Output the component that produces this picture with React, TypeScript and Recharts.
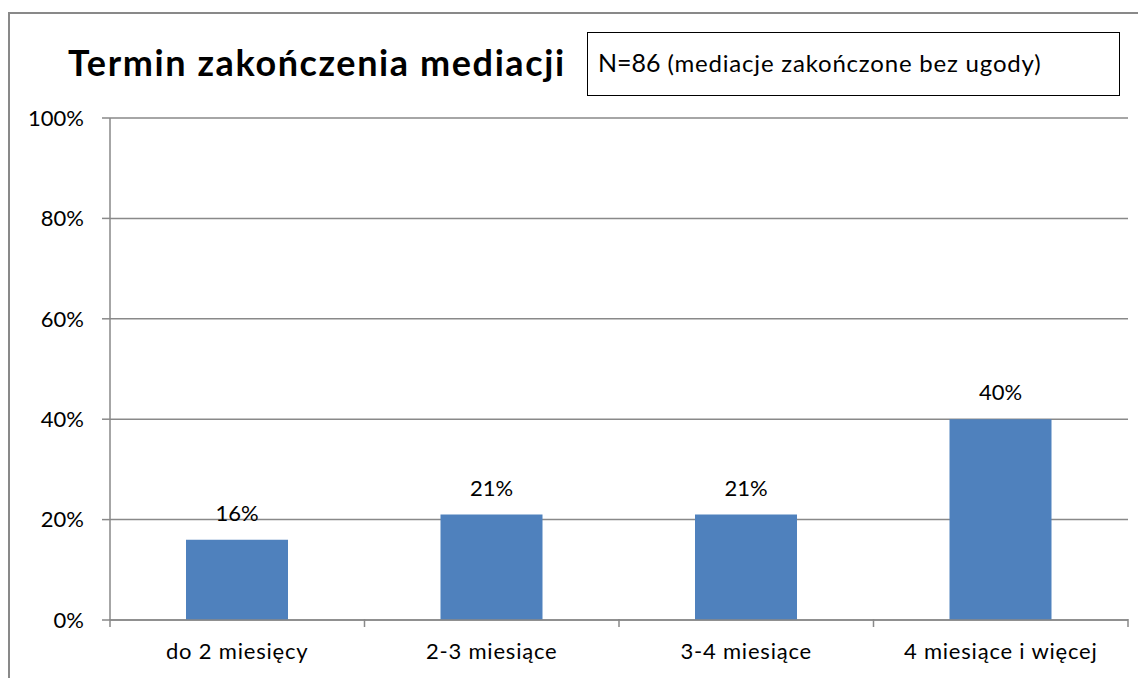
import React from "react";
import { BarChart, Bar, XAxis, YAxis, CartesianGrid, LabelList } from "recharts";

const categories = ["do 2 miesięcy", "2-3 miesiące", "3-4 miesiące", "4 miesiące i więcej"];
const values = [16, 21, 21, 40];
const yTicks = [0, 20, 40, 60, 80, 100];
const titleText = "Termin zakończenia mediacji";
const noteN = "N=86";
const noteText = " (mediacje zakończone bez ugody)";

const data = categories.map((c, i) => ({ name: c, value: values[i] }));

const FONT = "Lato, 'Open Sans', sans-serif";
const GRAY = "#898989";

const XTick = (props: any) => {
  const { x, y, payload, index } = props;
  const off = payload && typeof payload.offset === "number" ? payload.offset : 0;
  return (
    <g>
      <line x1={x - off} x2={x - off} y1={y - 9} y2={y - 1} stroke={GRAY} strokeWidth={1.5} />
      {index === categories.length - 1 && (
        <line x1={x + off} x2={x + off} y1={y - 9} y2={y - 1} stroke={GRAY} strokeWidth={1.5} />
      )}
      <text
        x={x}
        y={y + 31}
        textAnchor="middle"
        fontSize={22}
        fill="#000"
        fontFamily={FONT}
        letterSpacing={0.8}
      >
        {payload.value}
      </text>
    </g>
  );
};

export default function App() {
  return (
    <div style={{ position: "relative", width: 1138, height: 670, overflow: "hidden", fontFamily: FONT }}>
      <div
        style={{
          position: "absolute",
          left: 0,
          top: 4,
          width: 1300,
          height: 800,
          border: `2px solid ${GRAY}`,
          boxSizing: "border-box",
        }}
      />
      <BarChart
        width={1138}
        height={670}
        data={data}
        margin={{ top: 110, right: 18, left: 0, bottom: 0 }}
        barCategoryGap="30%"
      >
        <CartesianGrid vertical={false} stroke={GRAY} strokeWidth={1.5} />
        <XAxis
          dataKey="name"
          axisLine={{ stroke: GRAY, strokeWidth: 1.5 }}
          tickLine={false}
          tick={<XTick />}
          height={58}
          interval={0}
        />
        <YAxis
          domain={[0, 100]}
          ticks={yTicks}
          tickFormatter={(v: number) => `${v}%`}
          width={102}
          axisLine={{ stroke: GRAY, strokeWidth: 1.5 }}
          tickLine={{ stroke: GRAY, strokeWidth: 1.5 }}
          tickSize={8}
          tickMargin={18}
          tick={{ fill: "#000", fontSize: 22, fontFamily: FONT }}
        />
        <Bar dataKey="value" fill="#4F81BD" isAnimationActive={false} barSize={102}>
          <LabelList
            dataKey="value"
            position="top"
            offset={19}
            formatter={(v: any) => `${v}%`}
            style={{ fill: "#000", fontSize: 22, fontFamily: FONT }}
          />
        </Bar>
      </BarChart>
      <div
        style={{
          position: "absolute",
          left: 60,
          top: 32,
          fontSize: 36,
          fontWeight: 700,
          color: "#000",
          whiteSpace: "nowrap",
          lineHeight: "44px",
          letterSpacing: 1.6,
        }}
      >
        {titleText}
      </div>
      <div
        style={{
          position: "absolute",
          left: 579,
          top: 24,
          width: 533,
          height: 64,
          border: "1.5px solid #000",
          boxSizing: "border-box",
          background: "#fff",
          paddingLeft: 10,
          paddingTop: 14,
          whiteSpace: "nowrap",
          color: "#000",
          lineHeight: "30px",
        }}
      >
        <span style={{ fontSize: 25 }}>{noteN}</span>
        <span style={{ fontSize: 24, letterSpacing: 0.8 }}>{noteText}</span>
      </div>
    </div>
  );
}
